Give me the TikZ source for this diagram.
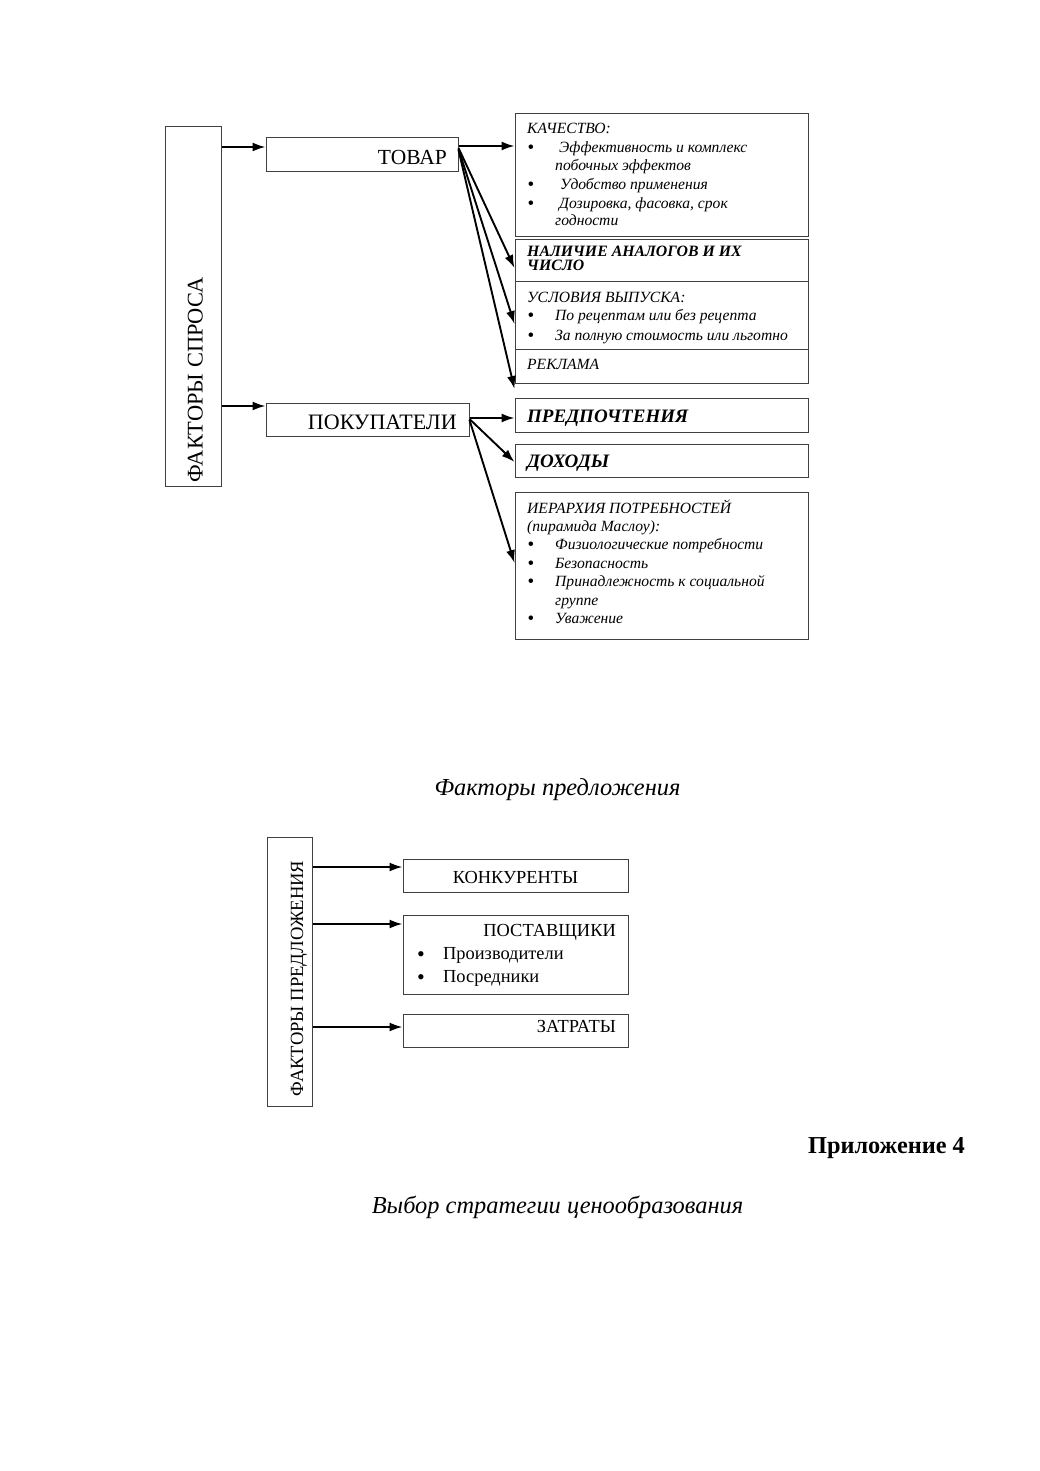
\documentclass[tikz,border=0pt]{standalone}
\usepackage{fontspec}
\setmainfont{Liberation Serif}
\usetikzlibrary{arrows.meta}
\begin{document}
\begin{tikzpicture}[x=1pt,y=-1pt,
  box/.style={draw=black!75, line width=1pt, inner sep=0pt, fill=none},
  arr/.style={-{Latex[length=13pt,width=9pt]}, line width=1.9pt},
  txt/.style={inner sep=0pt, anchor=mid west, yshift=-1.5pt},
  sm/.style={txt, font=\fontsize{15.6}{18}\selectfont\itshape},
  bu/.style={inner sep=0pt, anchor=center, font=\fontsize{19}{20}\selectfont},
  smb/.style={txt, font=\fontsize{15.8}{18}\selectfont\bfseries\itshape},
  bigb/.style={txt, font=\fontsize{19}{22}\selectfont\bfseries\itshape, yshift=-2pt},
  big/.style={inner sep=0pt, anchor=base east, font=\fontsize{21.5}{24}\selectfont},
  mid/.style={inner sep=0pt, font=\fontsize{18.4}{21}\selectfont},
  ttl/.style={inner sep=0pt}
]
\useasboundingbox (0,0) rectangle (1039,1471);

% ---------- upper diagram ----------
\node[box, minimum width=56pt, minimum height=359pt] (fs) at (193,306.5) {};
\node[inner sep=0pt, rotate=90, anchor=base, font=\fontsize{22.4}{24}\selectfont] (fst) at (202.5,380) {ФАКТОРЫ СПРОСА};

\node[box, minimum width=192pt, minimum height=34pt] (tovar) at (362,155) {};
\node[big] (tovart) at (447,165) {ТОВАР};
\node[box, minimum width=203pt, minimum height=33pt] (pokup) at (367.5,419.5) {};
\node[big, font=\fontsize{22}{24}\selectfont] (pokupt) at (457,429) {ПОКУПАТЕЛИ};

\node[box, minimum width=293pt, minimum height=123pt] (kach) at (661.5,175.5) {};
\node[box, minimum width=293pt, minimum height=41pt] (nal) at (661.5,260.5) {};
\node[box, minimum width=293pt, minimum height=68pt] (usl) at (661.5,315) {};
\node[box, minimum width=293pt, minimum height=34pt] (rekl) at (661.5,366) {};
\node[box, minimum width=293pt, minimum height=34pt] (pred) at (661.5,415) {};
\node[box, minimum width=293pt, minimum height=33pt] (doh) at (661.5,460.5) {};
\node[box, minimum width=293pt, minimum height=147pt] (ier) at (661.5,565.5) {};

% texts in right column
\node[sm] (k0) at (527,130) {КАЧЕСТВО:};
\node[bu] (k1b) at (531,149) {•};
\node[sm] (k1) at (559,149) {Эффективность и комплекс};
\node[sm] (k1c) at (555,167) {побочных эффектов};
\node[bu] (k2b) at (531,186) {•};
\node[sm] (k2) at (560,186) {Удобство применения};
\node[bu] (k3b) at (531,205) {•};
\node[sm] (k3) at (559,205) {Дозировка, фасовка, срок};
\node[sm] (k3c) at (555,222) {годности};

\node[smb] (n1) at (527,253) {НАЛИЧИЕ АНАЛОГОВ И ИХ};
\node[smb] (n2) at (527,267) {ЧИСЛО};

\node[sm] (u0) at (527,299) {УСЛОВИЯ ВЫПУСКА:};
\node[bu] (u1b) at (531,317) {•};
\node[sm] (u1) at (555,317) {По рецептам или без рецепта};
\node[bu] (u2b) at (531,337) {•};
\node[sm] (u2) at (555,337) {За полную стоимость или льготно};

\node[sm] (r0) at (527,366) {РЕКЛАМА};

\node[bigb] (p0) at (527,417) {ПРЕДПОЧТЕНИЯ};
\node[bigb] (d0) at (527,462) {ДОХОДЫ};

\node[sm] (i0) at (527,510) {ИЕРАРХИЯ ПОТРЕБНОСТЕЙ};
\node[sm] (i1) at (527,528) {(пирамида Маслоу):};
\node[bu] (i2b) at (531,546) {•};
\node[sm] (i2) at (555,546) {Физиологические потребности};
\node[bu] (i3b) at (531,565) {•};
\node[sm] (i3) at (555,565) {Безопасность};
\node[bu] (i4b) at (531,583) {•};
\node[sm] (i4) at (555,583) {Принадлежность к социальной};
\node[sm] (i4c) at (555,602) {группе};
\node[bu] (i5b) at (531,620) {•};
\node[sm] (i5) at (555,620) {Уважение};

% arrows upper
\draw[arr] (fs.east |- 0,147) -- (tovar.west |- 0,147);
\draw[arr] (fs.east |- 0,406) -- (pokup.west |- 0,406);
\draw[arr] (tovar.east |- 0,146) -- (kach.west |- 0,146);
\draw[arr] (tovar.east |- 0,148) -- (nal.west |- 0,268);
\draw[arr] (tovar.east |- 0,149) -- (usl.west |- 0,324);
\draw[arr] (tovar.east |- 0,150) -- (rekl.west |- 0,389);
\draw[arr] (pokup.east |- 0,418) -- (pred.west |- 0,418);
\draw[arr] (pokup.east |- 0,419) -- (doh.west |- 0,462);
\draw[arr] (pokup.east |- 0,420) -- (ier.west |- 0,563);

% ---------- lower diagram ----------
\node[ttl, font=\fontsize{24.4}{28}\selectfont\itshape] (t1) at (557.5,790) {Факторы предложения};

\node[box, minimum width=45pt, minimum height=269pt] (fp) at (289.5,971.5) {};
\node[inner sep=0pt, rotate=90, anchor=base, font=\fontsize{18.6}{21}\selectfont] (fpt) at (303,978.5) {ФАКТОРЫ ПРЕДЛОЖЕНИЯ};

\node[box, minimum width=225pt, minimum height=33pt] (konk) at (515.5,875.5) {};
\node[mid] (konkt) at (515.5,877) {КОНКУРЕНТЫ};
\node[box, minimum width=225pt, minimum height=79pt] (post) at (515.5,954.5) {};
\node[mid, anchor=mid east] (postt) at (616,934) {ПОСТАВЩИКИ};
\node[bu, font=\fontsize{22}{24}\selectfont] (pb1) at (421,957) {•};
\node[mid, anchor=mid west] (p1) at (443,957) {Производители};
\node[bu, font=\fontsize{22}{24}\selectfont] (pb2) at (421,980) {•};
\node[mid, anchor=mid west] (p2) at (443,980) {Посредники};
\node[box, minimum width=225pt, minimum height=33pt] (zatr) at (515.5,1030.5) {};
\node[mid, anchor=mid east] (zatrt) at (616,1030) {ЗАТРАТЫ};

\draw[arr] (fp.east |- 0,867) -- (konk.west |- 0,867);
\draw[arr] (fp.east |- 0,924) -- (post.west |- 0,924);
\draw[arr] (fp.east |- 0,1027) -- (zatr.west |- 0,1027);

\node[ttl, font=\fontsize{24.3}{28}\selectfont\bfseries, anchor=mid east] (t2) at (965,1151) {Приложение 4};
\node[ttl, font=\fontsize{24.4}{28}\selectfont\itshape] (t3) at (557.5,1207) {Выбор стратегии ценообразования};
\end{tikzpicture}
\end{document}
